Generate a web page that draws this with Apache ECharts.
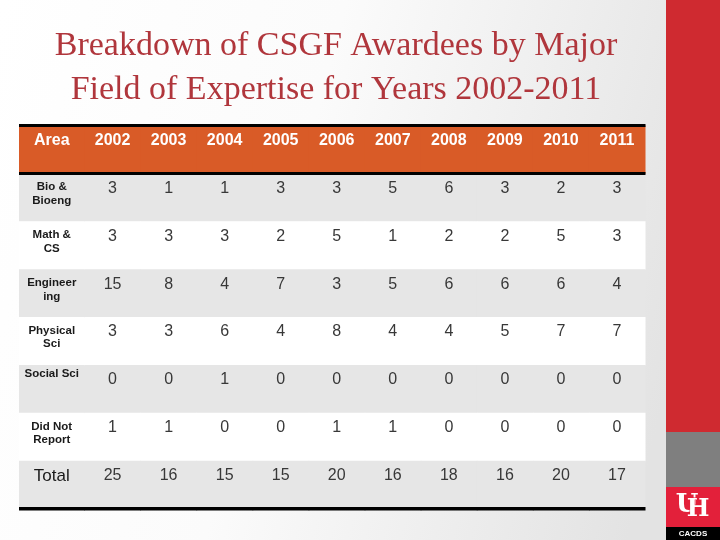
<!DOCTYPE html>
<html>
<head>
<meta charset="utf-8">
<script src="https://cdn.jsdelivr.net/npm/echarts@6/dist/echarts.min.js"></script>
<style>html,body{margin:0;padding:0;background:#fff}#c{width:720px;height:540px}</style>
</head>
<body>
<div id="c"></div>
<script>
// ---- data ----
const titleText = 'Breakdown of CSGF Awardees by Major\nField of Expertise for Years 2002-2011';
const headerLabel = 'Area';
const years = ['2002','2003','2004','2005','2006','2007','2008','2009','2010','2011'];
const areaLabels = ['Bio &\nBioeng', 'Math &\nCS', 'Engineer\ning', 'Physical\nSci', 'Social Sci', 'Did Not\nReport', 'Total'];
const bioBioeng    = [3, 1, 1, 3, 3, 5, 6, 3, 2, 3];
const mathCS       = [3, 3, 3, 2, 5, 1, 2, 2, 5, 3];
const engineering  = [15, 8, 4, 7, 3, 5, 6, 6, 6, 4];
const physicalSci  = [3, 3, 6, 4, 8, 4, 4, 5, 7, 7];
const socialSci    = [0, 0, 1, 0, 0, 0, 0, 0, 0, 0];
const didNotReport = [1, 1, 0, 0, 1, 1, 0, 0, 0, 0];
const total        = [25, 16, 15, 15, 20, 16, 18, 16, 20, 17];

// ---- build table ----
const rowValues = [years, bioBioeng, mathCS, engineering, physicalSci, socialSci, didNotReport, total];
const rowNames = [headerLabel].concat(areaLabels);
const nRows = rowNames.length;

const areaData = [], areaText = [];
rowNames.forEach((n, r) => { areaData.push([0, r]); areaText.push(n); });
const valData = [], valText = [];
rowValues.forEach((vals, r) => vals.forEach((v, c) => { valData.push([c, r]); valText.push(String(v)); }));

const ORANGE = '#D95B27', GRAY = '#E6E6E6', WHITE = '#FFFFFF';
function rowFill(r) { return r === 0 ? ORANGE : (r % 2 === 1 ? GRAY : WHITE); }

function makeRender(texts, isArea) {
  return function (params, api) {
    const c = api.value(0), r = api.value(1);
    const p = api.coord([c, r]);
    const s = api.size([1, 1]);
    const x0 = p[0] - s[0] / 2, y0 = p[1] - s[1] / 2;
    const w = s[0] + 0.5, h = s[1];
    const children = [{
      type: 'rect', shape: { x: x0, y: y0, width: w, height: h + 0.5 },
      style: { fill: rowFill(r) }, z2: 1
    }];
    const t = texts[params.dataIndex];
    let style;
    if (r === 0) {
      style = { text: t, x: p[0], y: y0 + 15, align: 'center', verticalAlign: 'middle',
        font: 'bold 16px "Liberation Sans", Arial, sans-serif', fill: '#FFFFFF' };
    } else if (isArea && r === nRows - 1) {
      style = { text: t, x: p[0], y: y0 + 15.5, align: 'center', verticalAlign: 'middle',
        font: '17px "Liberation Sans", Arial, sans-serif', fill: '#1a1a1a' };
    } else if (isArea) {
      const multi = t.indexOf('\n') >= 0;
      style = { text: t, x: p[0], y: multi ? y0 + 20.5 : y0 + 8.5, align: 'center', verticalAlign: 'middle',
        lineHeight: 13.5, font: 'bold 11.5px "Liberation Sans", Arial, sans-serif', fill: '#1a1a1a' };
    } else {
      style = { text: t, x: p[0], y: y0 + 15, align: 'center', verticalAlign: 'middle',
        font: '16px "Liberation Sans", Arial, sans-serif', fill: '#383838' };
    }
    children.push({ type: 'text', style: style, z2: 5 });
    if (r === 0) {
      children.push({ type: 'rect', shape: { x: x0, y: y0 - 1.5, width: w, height: 3 }, style: { fill: '#000' }, z2: 10 });
      children.push({ type: 'rect', shape: { x: x0, y: y0 + h - 1.5, width: w, height: 3 }, style: { fill: '#000' }, z2: 10 });
    }
    if (r === nRows - 1) {
      children.push({ type: 'rect', shape: { x: x0, y: y0 + h - 1.5, width: w, height: 3.5 }, style: { fill: '#000' }, z2: 10 });
    }
    return { type: 'group', children: children };
  };
}

const chart = echarts.init(document.getElementById('c'), null, { renderer: 'canvas' });
const TOP = 125.5, HEIGHT = 383;
chart.setOption({
  animation: false,
  backgroundColor: 'transparent',
  title: {
    text: titleText, left: 336, top: 24, padding: 0, textAlign: 'center',
    textStyle: { fontFamily: '"Liberation Serif", "DejaVu Serif", serif', fontSize: 34, lineHeight: 44,
      fontWeight: 'normal', color: '#B0363C' }
  },
  graphic: [
    { type: 'rect', z: -10, silent: true, shape: { x: 0, y: 0, width: 720, height: 540 },
      style: { fill: new echarts.graphic.LinearGradient(0, 0, 1, 0.35, [
        { offset: 0, color: '#FFFFFF' }, { offset: 0.45, color: '#FBFBFB' }, { offset: 1, color: '#E3E3E3' }]) } },
    { type: 'rect', z: -5, silent: true, shape: { x: 666, y: 0, width: 54, height: 433 }, style: { fill: '#CF2A30' } },
    { type: 'rect', z: -5, silent: true, shape: { x: 666, y: 432, width: 54, height: 55 }, style: { fill: '#7F7F7F' } },
    { type: 'rect', z: -5, silent: true, shape: { x: 666, y: 487, width: 54, height: 41 }, style: { fill: '#E3203A' } },
    { type: 'rect', z: -5, silent: true, shape: { x: 666, y: 527, width: 54, height: 13 }, style: { fill: '#000000' } },
    { type: 'text', z: -4, silent: true, style: { text: 'CACDS', x: 693, y: 534, align: 'center', verticalAlign: 'middle',
      font: 'bold 8px "Liberation Sans Narrow", "Liberation Sans", Arial, sans-serif', fill: '#FFFFFF' } },
    { type: 'text', z: -4, silent: true, style: { text: 'U', x: 687, y: 505, align: 'center', verticalAlign: 'middle',
      font: 'bold 26px "DejaVu Serif", serif', fill: '#FFFFFF', stroke: '#E3203A', lineWidth: 1 } },
    { type: 'text', z: -4, silent: true, style: { text: 'H', x: 698, y: 510, align: 'center', verticalAlign: 'middle',
      font: 'bold 24px "DejaVu Serif", serif', fill: '#FFFFFF', stroke: '#E3203A', lineWidth: 1 } }
  ],
  grid: [
    { left: 19, top: TOP, width: 65.5, height: HEIGHT },
    { left: 84.5, top: TOP, width: 560.5, height: HEIGHT }
  ],
  xAxis: [
    { type: 'category', gridIndex: 0, data: [headerLabel], show: false },
    { type: 'category', gridIndex: 1, data: years, show: false }
  ],
  yAxis: [
    { type: 'category', gridIndex: 0, data: rowNames, inverse: true, show: false },
    { type: 'category', gridIndex: 1, data: rowNames, inverse: true, show: false }
  ],
  series: [
    { type: 'custom', xAxisIndex: 0, yAxisIndex: 0, data: areaData, renderItem: makeRender(areaText, true), silent: true },
    { type: 'custom', xAxisIndex: 1, yAxisIndex: 1, data: valData, renderItem: makeRender(valText, false), silent: true }
  ]
});
</script>
</body>
</html>
